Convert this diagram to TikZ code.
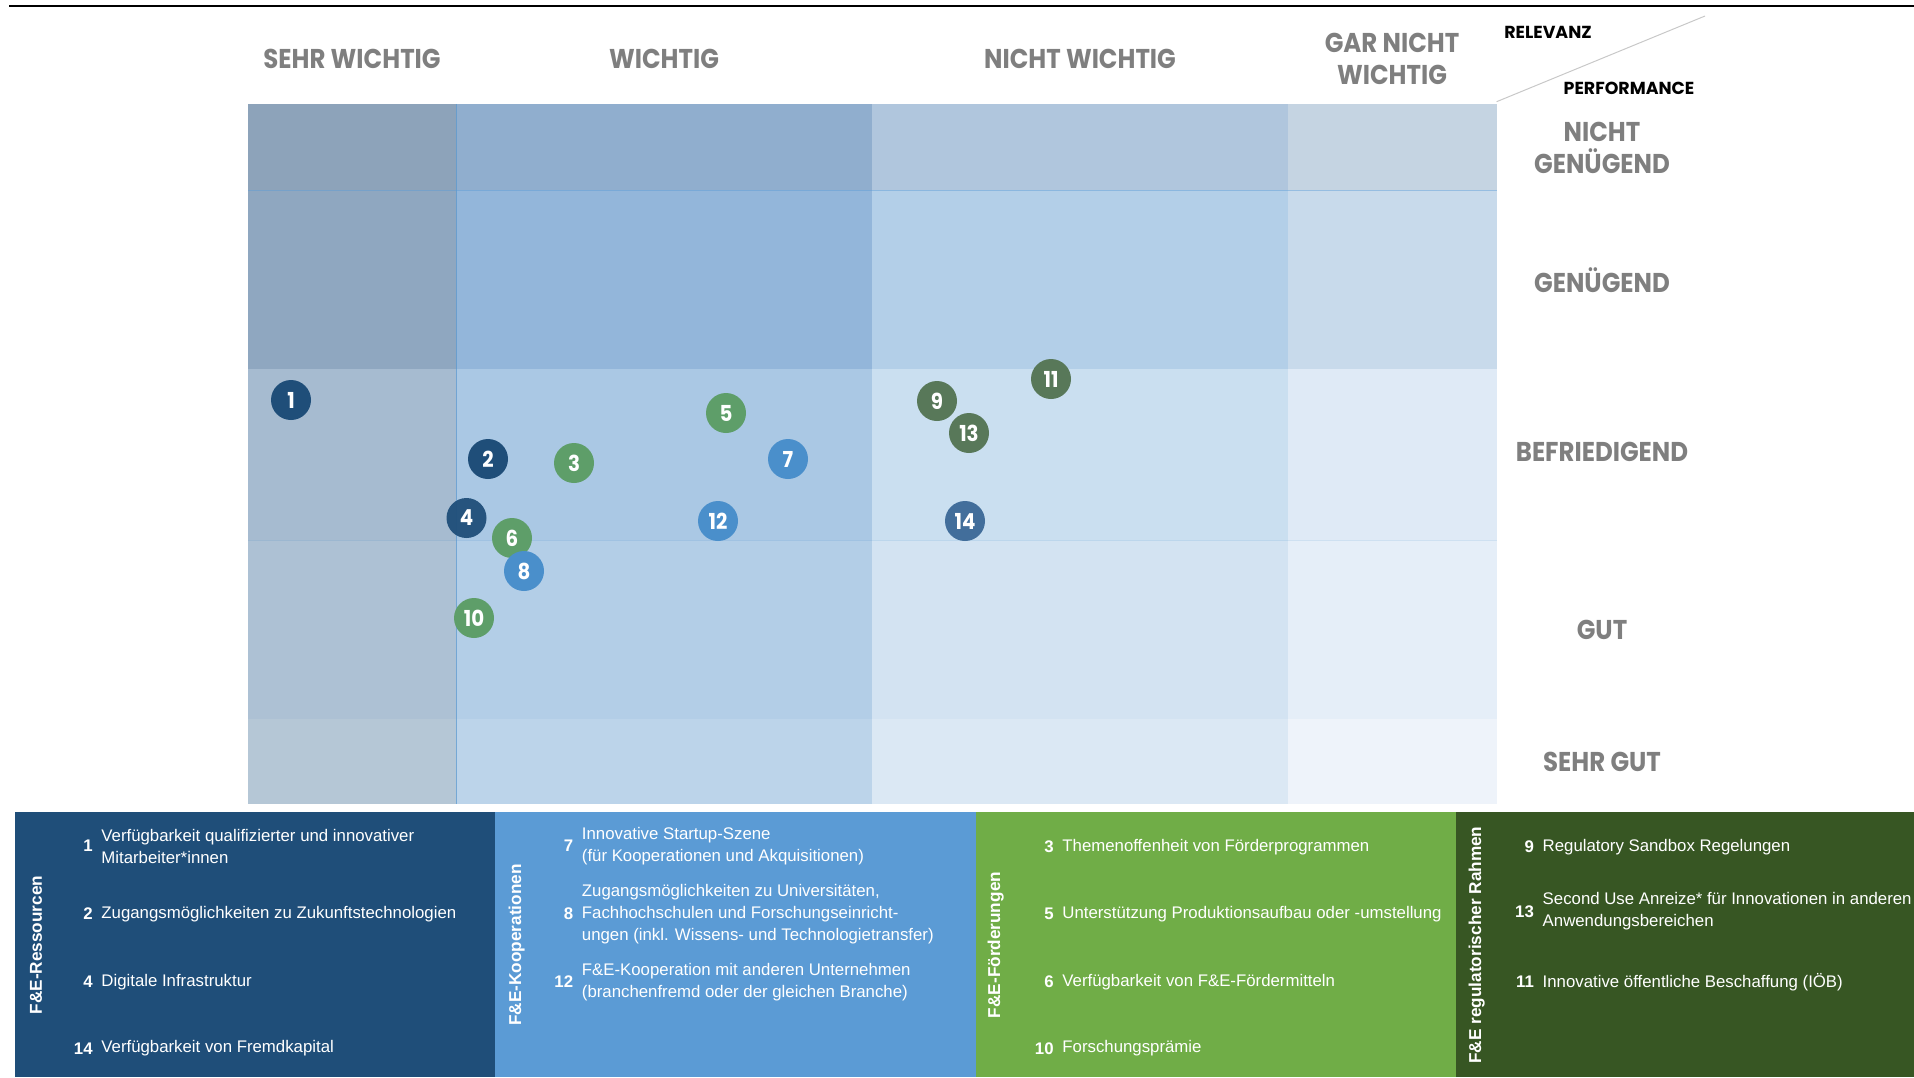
\documentclass[tikz,border=0pt]{standalone}
\usepackage{fontspec}
\setmainfont{Liberation Sans}
\newfontfamily\headfont{Poppins}[FakeStretch=0.9]
\newfontfamily\axisfont{Poppins}
\usepackage{xcolor}
\usetikzlibrary{positioning, calc}

% panel colours
\definecolor{ressblue}{HTML}{1F4E79}
\definecolor{koopblue}{HTML}{5B9BD5}
\definecolor{foerdgreen}{HTML}{70AD47}
\definecolor{rahmgreen}{HTML}{375623}
\definecolor{headgray}{HTML}{7F7F7F}
\definecolor{diaggray}{HTML}{C8C8C8}
% dot colours
\definecolor{dotress}{HTML}{1F4E79}
\definecolor{dotkoop}{HTML}{4A8FCB}
\definecolor{dotfoerd}{HTML}{5E9E69}
\definecolor{dotrahm}{HTML}{587859}
\definecolor{dotkap}{HTML}{426E9B}
% grid cells (row, column)
\definecolor{c11}{HTML}{8DA3BA}\definecolor{c12}{HTML}{90AECE}\definecolor{c13}{HTML}{B0C6DD}\definecolor{c14}{HTML}{C5D4E2}
\definecolor{c21}{HTML}{8FA7C0}\definecolor{c22}{HTML}{93B6DA}\definecolor{c23}{HTML}{B3CFE8}\definecolor{c24}{HTML}{C8DAEB}
\definecolor{c31}{HTML}{A6BBD0}\definecolor{c32}{HTML}{AAC8E4}\definecolor{c33}{HTML}{CADFF0}\definecolor{c34}{HTML}{DFEAF6}
\definecolor{c41}{HTML}{ADC1D4}\definecolor{c42}{HTML}{B3CEE7}\definecolor{c43}{HTML}{D3E3F2}\definecolor{c44}{HTML}{E5EEF8}
\definecolor{c51}{HTML}{B5C7D6}\definecolor{c52}{HTML}{BCD4EA}\definecolor{c53}{HTML}{DBE8F4}\definecolor{c54}{HTML}{EEF3FA}

\tikzset{
  colhead/.style={font=\headfont\bfseries\fontsize{13.6}{15.9}\selectfont, text=headgray, align=center, inner sep=0pt},
  axislbl/.style={font=\axisfont\bfseries\fontsize{8.7}{10}\selectfont, text=black, inner sep=0pt},
  dot/.style={circle, minimum size=20pt, inner sep=0pt, text=white, font=\headfont\bfseries\fontsize{11}{12}\selectfont},
  itemnum/.style={anchor=east, inner sep=0pt, text=white, font=\bfseries\fontsize{8.4}{11}\selectfont},
  itemtxt/.style={anchor=west, inner sep=0pt, text=white, align=left, font=\fontsize{8.4}{11}\selectfont},
  cattitle/.style={rotate=90, inner sep=0pt, text=white, font=\bfseries\fontsize{8.6}{10}\selectfont},
  gridline/.style={line width=0.5pt, draw=koopblue}
}

\begin{document}
\begin{tikzpicture}[x=0.5pt, y=-0.5pt]
        \useasboundingbox (0,0) rectangle (1914,1077);

        % top rule
        \draw [line width=1.25pt] (9,6) -- (1914,6);

        % the grid
        \fill[c11] (248,103.8) rectangle (456.5,190.4);
        \fill[c12] (456.5,103.8) rectangle (871.6,190.4);
        \fill[c13] (871.6,103.8) rectangle (1287.8,190.4);
        \fill[c14] (1287.8,103.8) rectangle (1496.6,190.4);
        \fill[c21] (248,190.4) rectangle (456.5,368.7);
        \fill[c22] (456.5,190.4) rectangle (871.6,368.7);
        \fill[c23] (871.6,190.4) rectangle (1287.8,368.7);
        \fill[c24] (1287.8,190.4) rectangle (1496.6,368.7);
        \fill[c31] (248,368.7) rectangle (456.5,540.8);
        \fill[c32] (456.5,368.7) rectangle (871.6,540.8);
        \fill[c33] (871.6,368.7) rectangle (1287.8,540.8);
        \fill[c34] (1287.8,368.7) rectangle (1496.6,540.8);
        \fill[c41] (248,540.8) rectangle (456.5,719);
        \fill[c42] (456.5,540.8) rectangle (871.6,719);
        \fill[c43] (871.6,540.8) rectangle (1287.8,719);
        \fill[c44] (1287.8,540.8) rectangle (1496.6,719);
        \fill[c51] (248,719) rectangle (456.5,804.4);
        \fill[c52] (456.5,719) rectangle (871.6,804.4);
        \fill[c53] (871.6,719) rectangle (1287.8,804.4);
        \fill[c54] (1287.8,719) rectangle (1496.6,804.4);

        % grid lines
        \draw[gridline, draw opacity=0.7] (456.5,103.8) -- (456.5,804.4);
        \draw[gridline, draw opacity=0.45] (248,190.4) -- (1496.6,190.4);
        \draw[gridline, draw opacity=0.12] (248,540.8) -- (1496.6,540.8);

        % column heads (relevanz)
        \node[colhead] (sehrw) at (352,59) {SEHR WICHTIG};
        \node[colhead] (wicht) at (664,59) {WICHTIG};
        \node[colhead] (nichtw) at (1080,59) {NICHT WICHTIG};
        \node[colhead] (garnw) at (1392,59) {GAR NICHT\\WICHTIG};

        % row heads (performance)
        \node[colhead] (nichtg) at (1602,148) {NICHT\\GENÜGEND};
        \node[colhead] (genueg) at (1602,280) {GENÜGEND};
        \node[colhead] (befr) at (1602,452) {BEFRIEDIGEND};
        \node[colhead] (gut) at (1602,630) {GUT};
        \node[colhead] (sehrg) at (1602,762) {SEHR GUT};

        % corner
        \coordinate (diagA) at (1496.6,101.7);
        \coordinate (diagB) at (1705,16);
        \draw[diaggray, line width=0.5pt] (diagA) -- (diagB);
        \node[axislbl] (relev) at (1548,32.5) {RELEVANZ};
        \node[axislbl] (perf) at (1629,88.5) {PERFORMANCE};

        % the dots
        \node[dot, fill=dotress] (b1) at (291,400) {1};
        \node[dot, fill=dotress] (b2) at (488,459) {2};
        \node[dot, fill=dotfoerd] (b3) at (574,463) {3};
        \node[dot, fill=dotress, fill opacity=0.95, text opacity=1] (b4) at (466.5,518) {4};
        \node[dot, fill=dotfoerd] (b5) at (726,413) {5};
        \node[dot, fill=dotfoerd] (b6) at (512,538) {6};
        \node[dot, fill=dotkoop] (b7) at (788,459) {7};
        \node[dot, fill=dotkoop] (b8) at (524,571) {8};
        \node[dot, fill=dotfoerd] (b10) at (474,618) {10};
        \node[dot, fill=dotrahm] (b9) at (937,401) {9};
        \node[dot, fill=dotrahm] (b11) at (1051,379) {11};
        \node[dot, fill=dotkoop] (b12) at (718,521) {12};
        \node[dot, fill=dotrahm] (b13) at (969,433) {13};
        \node[dot, fill=dotkap] (b14) at (965,521) {14};

        % bottom panels
        \fill[ressblue] (14.5,811.7) rectangle (495.3,1077);
        \fill[koopblue] (495.3,811.7) rectangle (975.7,1077);
        \fill[foerdgreen] (975.7,811.7) rectangle (1455.9,1077);
        \fill[rahmgreen] (1455.9,811.7) rectangle (1914,1077);

        \node[cattitle] (ress) at (36,945) {F\&E-Ressourcen};
        \node[cattitle] (koop) at (516.7,945) {F\&E-Kooperationen};
        \node[cattitle] (foerd) at (995.7,945) {F\&E-Förderungen};
        \node[cattitle] (rahm) at (1476.7,945) {F\&E regulatorischer Rahmen};

        % ressourcen
        \node[itemnum] (n1) at (93,846) {1};
        \node[itemtxt, right=4pt of n1] (t1) {Verfügbarkeit qualifizierter und innovativer\\Mitarbeiter*innen};
        \node[itemnum] (n2) at (93,914) {2};
        \node[itemtxt, right=4pt of n2] (t2) {Zugangsmöglichkeiten zu Zukunftstechnologien};
        \node[itemnum] (n4) at (93,981.7) {4};
        \node[itemtxt, right=4pt of n4] (t4) {Digitale Infrastruktur};
        \node[itemnum] (n14) at (93,1048.3) {14};
        \node[itemtxt, right=4pt of n14] (t14) {Verfügbarkeit von Fremdkapital};

        % kooperationen
        \node[itemnum] (n7) at (573.5,846) {7};
        \node[itemtxt, right=4pt of n7] (t7) {Innovative Startup-Szene\\(für Kooperationen und Akquisitionen)};
        \node[itemnum] (n8) at (573.5,914) {8};
        \node[itemtxt, right=4pt of n8] (t8) {Zugangsmöglichkeiten zu Universitäten,\\Fachhochschulen und Forschungseinricht-\\ungen (inkl. Wissens- und Technologietransfer)};
        \node[itemnum] (n12) at (573.5,982) {12};
        \node[itemtxt, right=4pt of n12] (t12) {F\&E-Kooperation mit anderen Unternehmen\\(branchenfremd oder der gleichen Branche)};

        % foerderungen
        \node[itemnum] (n3) at (1054,847) {3};
        \node[itemtxt, right=4pt of n3] (t3) {Themenoffenheit von Förderprogrammen};
        \node[itemnum] (n5) at (1054,914) {5};
        \node[itemtxt, right=4pt of n5] (t5) {Unterstützung Produktionsaufbau oder -umstellung};
        \node[itemnum] (n6) at (1054,982) {6};
        \node[itemtxt, right=4pt of n6] (t6) {Verfügbarkeit von F\&E-Fördermitteln};
        \node[itemnum] (n10) at (1054,1048.3) {10};
        \node[itemtxt, right=4pt of n10] (t10) {Forschungsprämie};

        % regulatorischer rahmen
        \node[itemnum] (n9) at (1534.3,847) {9};
        \node[itemtxt, right=4pt of n9] (t9) {Regulatory Sandbox Regelungen};
        \node[itemnum] (n13) at (1534.3,911.3) {13};
        \node[itemtxt, right=4pt of n13] (t13) {Second Use Anreize* für Innovationen in anderen\\Anwendungsbereichen};
        \node[itemnum] (n11) at (1534.3,981.7) {11};
        \node[itemtxt, right=4pt of n11] (t11) {Innovative öffentliche Beschaffung (IÖB)};
    \end{tikzpicture}
\end{document}
